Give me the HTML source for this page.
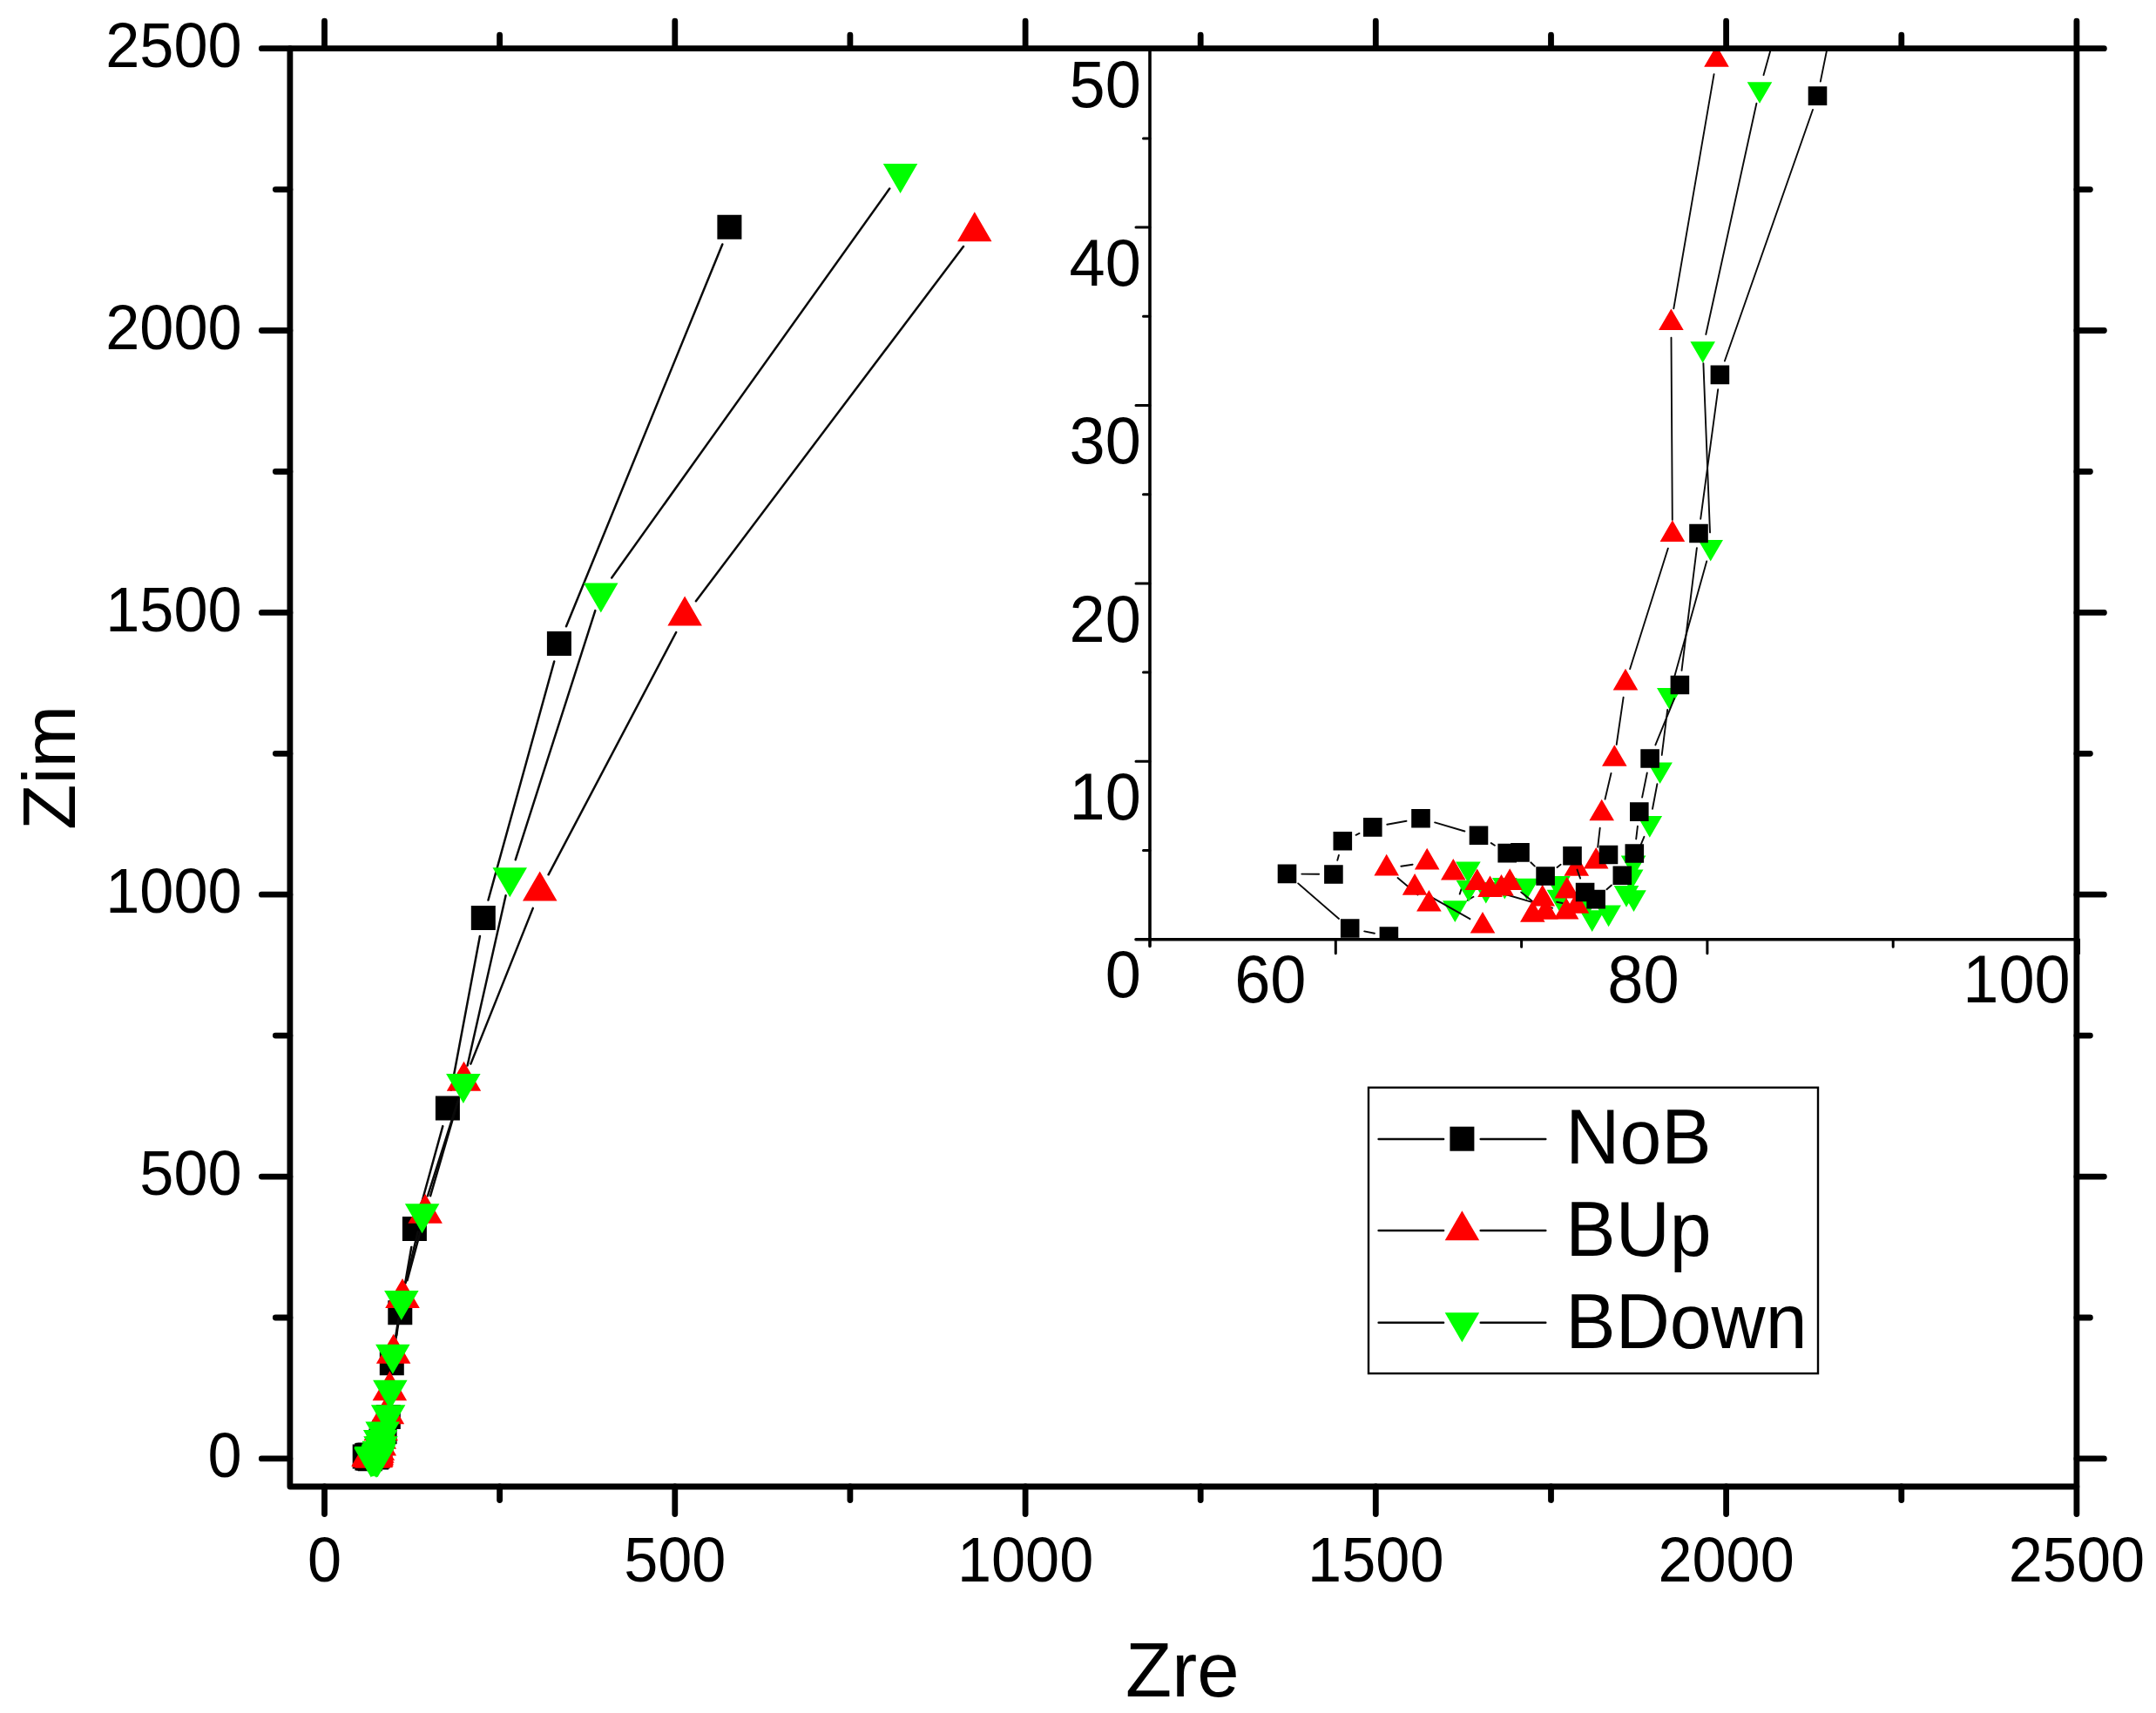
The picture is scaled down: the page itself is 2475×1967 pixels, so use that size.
<!DOCTYPE html><html><head><meta charset="utf-8"><title>Zim vs Zre</title>
<style>html,body{margin:0;padding:0;background:#fff}svg{display:block}text{font-family:"Liberation Sans",Arial,sans-serif;fill:#000}</style></head><body>
<svg width="2475" height="1967" viewBox="0 0 2475 1967">
<rect width="2475" height="1967" fill="#fff"/>
<defs><clipPath id="cm"><rect x="332.9" y="55.7" width="2051" height="1651.3"/></clipPath><clipPath id="ci"><rect x="1320" y="55.7" width="1063.9" height="1023"/></clipPath></defs>
<g clip-path="url(#cm)">
<path d="M829.3 280.5L650 719.3M636.2 759.5L560.5 1033.5M550.9 1074.9L517.8 1251.7M508.3 1293.1L481.5 1390.5M472.3 1432L462.9 1486.3M455.9 1528.3L453.2 1544.3M448.4 1586.6L447.2 1605.7" fill="none" stroke="#0a0a0a" stroke-width="2.5" stroke-linecap="round"/>
<path d="M823.4 246.8h28v28h-28zM627.9 725h28v28h-28zM540.8 1040h28v28h-28zM499.9 1258.6h28v28h-28zM461.9 1397h28v28h-28zM445.3 1493.3h28v28h-28zM435.8 1551.3h28v28h-28zM431.8 1613h28v28h-28zM427.6 1630.2h28v28h-28zM423.4 1640.4h28v28h-28zM422.5 1646.1h28v28h-28zM421.7 1651.6h28v28h-28zM420.4 1654.3h28v28h-28zM419.9 1656.3h28v28h-28zM419.7 1657.8h28v28h-28zM418.6 1657.8h28v28h-28zM419.2 1658.6h28v28h-28zM418 1659.4h28v28h-28zM417.6 1659.2h28v28h-28zM417 1657.9h28v28h-28zM415.9 1658.6h28v28h-28zM414.8 1657.7h28v28h-28zM414.2 1657.8h28v28h-28zM413 1657.1h28v28h-28zM410.5 1656.5h28v28h-28zM408.4 1656.8h28v28h-28zM407.1 1657.3h28v28h-28zM406.7 1658.5h28v28h-28zM404.7 1658.5h28v28h-28zM407.4 1660.5h28v28h-28zM409.1 1660.8h28v28h-28zM410.8 1661.3h28v28h-28z" fill="#000"/>
<path d="M1106 283L798.9 690.2M776.2 726L629.6 1004.3M611.8 1042.9L540.4 1221.6M526.5 1261.8L494.1 1373.1M482.6 1414.1L467.5 1470.1M458.6 1511.7L455.1 1533.5" fill="none" stroke="#0a0a0a" stroke-width="2.5" stroke-linecap="round"/>
<path d="M1118.8 243.3L1138.5 277.3L1099 277.3zM786.1 684.5L805.9 718.5L766.4 718.5zM619.7 1000.4L639.5 1034.4L600 1034.4zM532.5 1218.7L552.2 1252.7L512.8 1252.7zM488.1 1370.8L507.9 1404.8L468.4 1404.8zM462 1468L481.8 1502L442.2 1502zM451.7 1531.8L471.4 1565.8L431.9 1565.8zM447.4 1574.2L467.1 1608.2L427.6 1608.2zM444.5 1601.3L464.2 1635.3L424.8 1635.3zM437.3 1620.2L457 1654.2L417.5 1654.2zM435.3 1629.8L455 1663.8L415.5 1663.8zM435.4 1637.5L455.1 1671.5L415.6 1671.5zM433.3 1642.9L453.1 1676.9L413.6 1676.9zM432.8 1645.7L452.6 1679.7L413.1 1679.7zM432.3 1647.7L452 1681.7L412.5 1681.7zM432 1649.4L451.8 1683.4L412.3 1683.4zM431.2 1649.7L451 1683.7L411.5 1683.7zM430.8 1650.5L450.5 1684.5L411 1684.5zM431.2 1651L451 1685L411.5 1685zM429.7 1650.8L449.5 1684.8L410 1684.8zM429.3 1651.3L449 1685.3L409.5 1685.3zM429.9 1651.2L449.6 1685.2L410.1 1685.2zM428.3 1650.2L448.1 1684.2L408.6 1684.2zM427.9 1650.4L447.7 1684.4L408.2 1684.4zM426.9 1650.2L446.6 1684.2L407.1 1684.2zM425.9 1649.8L445.6 1683.8L406.1 1683.8zM424.7 1649.4L444.5 1683.4L405 1683.4zM423 1649.7L442.7 1683.7L403.2 1683.7zM424.8 1651L444.6 1685L405.1 1685zM424.2 1650.4L443.9 1684.4L404.4 1684.4zM427.1 1651.7L446.9 1685.7L407.4 1685.7zM427.5 1650.4L447.2 1684.4L407.7 1684.4zM430.8 1651.2L450.5 1685.2L411 1685.2z" fill="#ff0000"/>
<path d="M1021.2 216.6L702.2 663.5M683.3 701.1L591.8 987.2M580.6 1028.3L536.6 1223.6M525.5 1264.7L491 1373.2M479.7 1414.2L465.7 1472.7M457.4 1514.4L454.3 1534" fill="none" stroke="#0a0a0a" stroke-width="2.5" stroke-linecap="round"/>
<path d="M1033.6 222L1053.3 188L1013.8 188zM689.8 703.5L709.5 669.5L670 669.5zM585.3 1030.2L605 996.2L565.5 996.2zM531.9 1267.1L551.6 1233.1L512.1 1233.1zM484.6 1416.2L504.4 1382.2L464.9 1382.2zM460.8 1516.1L480.6 1482.1L441.1 1482.1zM450.9 1577.7L470.6 1543.7L431.1 1543.7zM447.9 1618.7L467.6 1584.7L428.1 1584.7zM445.6 1647.2L465.4 1613.2L425.9 1613.2zM439.1 1666.6L458.9 1632.6L419.4 1632.6zM436.7 1676.1L456.4 1642.1L416.9 1642.1zM437 1683.3L456.8 1649.3L417.3 1649.3zM435.2 1688.7L455 1654.7L415.5 1654.7zM434.8 1691.4L454.6 1657.4L415.1 1657.4zM434.4 1693.3L454.1 1659.3L414.6 1659.3zM433.7 1694.8L453.4 1660.8L413.9 1660.8zM433.6 1695.3L453.3 1661.3L413.8 1661.3zM433.7 1696L453.4 1662L413.9 1662zM433.4 1695.9L453.1 1661.9L413.6 1661.9zM432.6 1696.6L452.3 1662.6L412.8 1662.6zM431.9 1696.8L451.6 1662.8L412.1 1662.8zM431.7 1696.2L451.4 1662.2L411.9 1662.2zM430.5 1696L450.2 1662L410.7 1662zM430.4 1695.5L450.1 1661.5L410.6 1661.5zM429 1695.6L448.8 1661.6L409.3 1661.6zM428.1 1695.6L447.8 1661.6L408.3 1661.6zM427.3 1695.7L447 1661.7L407.5 1661.7zM425.9 1696.4L445.7 1662.4L406.2 1662.4zM426.5 1695L446.3 1661L406.8 1661zM426.5 1695.7L446.3 1661.7L406.8 1661.7z" fill="#00ff00"/>
</g>
<g clip-path="url(#ci)">
<path d="M2592.2 -4632.6L2334.2 -2721.8M2331 -2688.4L2253.5 -1428.1M2251.3 -1394.5L2192.6 -528.6M2187 -495.7L2024.5 86.2M2016.4 118.8L1958.3 384M1955.4 417.2L1963 611.4M1959.2 644.4L1920.8 782M1914.2 814.9L1907.7 867M1902.4 900.2L1897 928.8M1887.4 960.8L1881.5 975.1M1771.6 1015.5L1769.4 1015.7M1691.4 1029.8L1684.7 1033.8M1675.7 1026.6L1680 1013.6" fill="none" stroke="#0a0a0a" stroke-width="1.9" stroke-linecap="round"/>
<path d="M2594.5 -4632.8L2608.8 -4657.4L2580.2 -4657.4zM2332 -2688.8L2346.3 -2713.4L2317.7 -2713.4zM2252.5 -1394.9L2266.8 -1419.5L2238.2 -1419.5zM2191.5 -495.5L2205.8 -520.1L2177.2 -520.1zM2020 118.8L2034.3 94.2L2005.7 94.2zM1954.7 416.8L1969 392.2L1940.4 392.2zM1963.7 644.6L1978 620L1949.4 620zM1916.3 814.6L1930.6 790L1902 790zM1905.6 900.1L1919.9 875.5L1891.3 875.5zM1893.8 961.7L1908.1 937.1L1879.5 937.1zM1875.1 1007L1889.4 982.4L1860.8 982.4zM1872.2 1023.2L1886.5 998.6L1857.9 998.6zM1875.5 1046.9L1889.8 1022.3L1861.2 1022.3zM1867 1041.7L1881.3 1017.1L1852.7 1017.1zM1846.6 1064.2L1860.9 1039.6L1832.3 1039.6zM1827.7 1069.9L1842 1045.3L1813.4 1045.3zM1822 1052.4L1836.3 1027.8L1807.7 1027.8zM1790 1046.4L1804.3 1021.8L1775.7 1021.8zM1788.4 1030.7L1802.7 1006.1L1774.1 1006.1zM1752.6 1033.3L1766.9 1008.7L1738.3 1008.7zM1727.3 1032.6L1741.6 1008L1713 1008zM1705.8 1037.5L1720.1 1012.9L1691.5 1012.9zM1670.3 1058.9L1684.6 1034.3L1656 1034.3zM1685.4 1014.1L1699.7 989.5L1671.1 989.5zM1686 1035.6L1700.3 1011L1671.7 1011z" fill="#00ff00"/>
<path d="M2624 -4717.8L2355.5 -2737.6M2351.8 -2704.2L2240.6 -1399.6M2237.7 -1366.2L2163.8 -544.4M2157.2 -511.7L1975.6 52.5M1967.6 85.1L1921.3 354.3M1918.5 387.7L1919.8 596.9M1914.8 629.7L1871.1 768.2M1863.6 800.8L1855.7 855M1849.5 888L1842.5 917.7M1836.7 950.8L1834.2 972.7M1793.6 1037L1787.1 1035.7M1761.4 1036.8L1746.2 1024.4M1621.6 992.7L1608.3 994.7M1604.5 1008L1627.6 1027.5M1638.7 1027.7L1687.4 1055.2" fill="none" stroke="#0a0a0a" stroke-width="1.9" stroke-linecap="round"/>
<path d="M1726.6 1026.5L1782 1042.7" fill="none" stroke="#0a0a0a" stroke-width="1.9" stroke-linecap="round"/>
<path d="M2626.3 -4750.8L2640.6 -4726.2L2612 -4726.2zM2353.2 -2737.4L2367.5 -2712.8L2338.9 -2712.8zM2239.2 -1399.3L2253.5 -1374.7L2224.9 -1374.7zM2162.3 -544L2176.6 -519.4L2148 -519.4zM1970.5 52.1L1984.8 76.7L1956.2 76.7zM1918.4 354.5L1932.7 379.1L1904.1 379.1zM1919.9 597.3L1934.2 621.9L1905.6 621.9zM1866 767.8L1880.3 792.4L1851.7 792.4zM1853.3 855.2L1867.6 879.8L1839 879.8zM1838.7 917.7L1853 942.3L1824.4 942.3zM1832.2 973L1846.5 997.6L1817.9 997.6zM1809.8 981.2L1824.1 1005.8L1795.5 1005.8zM1798.8 1006.8L1813.1 1031.4L1784.5 1031.4zM1810 1024.1L1824.3 1048.7L1795.7 1048.7zM1770.7 1015.8L1785 1040.4L1756.4 1040.4zM1759.3 1034.1L1773.6 1058.7L1745 1058.7zM1774.4 1031.1L1788.7 1055.7L1760.1 1055.7zM1733.2 997.3L1747.5 1021.9L1718.9 1021.9zM1723.5 1004L1737.8 1028.6L1709.2 1028.6zM1695.7 997.4L1710 1022L1681.4 1022zM1668.3 985.9L1682.6 1010.5L1654 1010.5zM1638.2 973.8L1652.5 998.4L1623.9 998.4zM1591.7 980.8L1606 1005.4L1577.4 1005.4zM1640.4 1021.9L1654.7 1046.5L1626.1 1046.5zM1624.1 1003.1L1638.4 1027.7L1609.8 1027.7zM1702 1047L1716.3 1071.6L1687.7 1071.6zM1710.5 1005.4L1724.8 1030L1696.2 1030zM1798.1 1031L1812.4 1055.6L1783.8 1055.6z" fill="#ff0000"/>
<path d="M2552.4 -4193.9L2305.1 -2396.8M2301.9 -2363.4L2197.7 -449.7M2193.4 -416.5L2089.8 93.6M2081 126L1979.9 414.5M1972.2 447.1L1952.2 595.8M1947.9 629.2L1930.5 769.8M1922.1 802.1L1900.4 855.4M1890.8 887.5L1885.1 915.6M1879.9 948.8L1878.2 963.3M1849.9 1016.5L1844.5 1021.3M1814.1 1008.6L1810.5 998.6M1791.6 992.8L1787.5 995.9M1761.8 994.6L1757.3 990.3M1715.9 970.7L1711.8 968.1M1681.4 954.5L1647.1 944.4M1614.5 942.8L1592.3 946.8M1560.5 956.9L1556.6 958.8M1536.9 982L1535.3 987.8M1514.1 1003.8L1494.3 1003.6M1490.2 1014.4L1537 1055M1566.2 1069.4L1577.9 1071.7M1610.2 1080.9L1624.2 1086.2" fill="none" stroke="#0a0a0a" stroke-width="1.9" stroke-linecap="round"/>
<path d="M2543.9 -4221.4h21.6v21.6h-21.6zM2292 -2390.9h21.6v21.6h-21.6zM2186 -443.8h21.6v21.6h-21.6zM2075.7 99.3h21.6v21.6h-21.6zM1963.6 419.6h21.6v21.6h-21.6zM1939.2 601.7h21.6v21.6h-21.6zM1917.6 775.7h21.6v21.6h-21.6zM1883.3 860.2h21.6v21.6h-21.6zM1871 921.3h21.6v21.6h-21.6zM1865.5 969.2h21.6v21.6h-21.6zM1835.7 970.7h21.6v21.6h-21.6zM1851.5 994.4h21.6v21.6h-21.6zM1821.3 1021.8h21.6v21.6h-21.6zM1808.8 1013.7h21.6v21.6h-21.6zM1794.2 971.9h21.6v21.6h-21.6zM1763.3 995.2h21.6v21.6h-21.6zM1734.2 968.1h21.6v21.6h-21.6zM1719.4 968.8h21.6v21.6h-21.6zM1686.7 948.4h21.6v21.6h-21.6zM1620.2 928.9h21.6v21.6h-21.6zM1565 939.1h21.6v21.6h-21.6zM1530.5 955h21.6v21.6h-21.6zM1520.1 993.2h21.6v21.6h-21.6zM1466.7 992.6h21.6v21.6h-21.6zM1538.9 1055.2h21.6v21.6h-21.6zM1583.6 1064.3h21.6v21.6h-21.6zM1629.2 1081.2h21.6v21.6h-21.6z" fill="#000"/>
</g>
<path d="M1320 55.7V1086.5 M1304 1078.7H2383.9" stroke="#000" stroke-width="3.6" fill="none" stroke-linecap="round"/>
<path d="M1320 874.3H1304M1320 669.9H1304M1320 465.5H1304M1320 261.1H1304M1320 976.5H1312.5M1320 772.1H1312.5M1320 567.7H1312.5M1320 363.3H1312.5M1320 158.9H1312.5M1533.3 1078.7V1094.7M1959.9 1078.7V1094.7M2386.5 1078.7V1094.7M1746.6 1078.7V1087.2M2173.2 1078.7V1087.2" stroke="#000" stroke-width="3.0" fill="none" stroke-linecap="round"/>
<text transform="translate(1309.8 1145.3) scale(1 1.035)" font-size="74" text-anchor="end">0</text>
<text transform="translate(1309.8 940.9) scale(1 1.035)" font-size="74" text-anchor="end">10</text>
<text transform="translate(1309.8 736.5) scale(1 1.035)" font-size="74" text-anchor="end">20</text>
<text transform="translate(1309.8 532.1) scale(1 1.035)" font-size="74" text-anchor="end">30</text>
<text transform="translate(1309.8 327.7) scale(1 1.035)" font-size="74" text-anchor="end">40</text>
<text transform="translate(1309.8 123.3) scale(1 1.035)" font-size="74" text-anchor="end">50</text>
<text transform="translate(1458.3 1151) scale(1 1.04)" font-size="74" text-anchor="middle">60</text>
<text transform="translate(1886.4 1151) scale(1 1.04)" font-size="74" text-anchor="middle">80</text>
<text transform="translate(2315 1151) scale(1 1.04)" font-size="74" text-anchor="middle">100</text>
<rect x="332.9" y="55.7" width="2051" height="1651.3" stroke="#000" stroke-width="6.8" fill="none" stroke-linejoin="round"/>
<path d="M372.5 55.7V24.2M372.5 1707V1738.5M332.9 1674.9H300.3M2383.9 1674.9H2415.4M573.6 55.7V40.2M573.6 1707V1722.5M332.9 1513H316.3M2383.9 1513H2399.4M774.8 55.7V24.2M774.8 1707V1738.5M332.9 1351.1H300.3M2383.9 1351.1H2415.4M975.9 55.7V40.2M975.9 1707V1722.5M332.9 1189.1H316.3M2383.9 1189.1H2399.4M1177.1 55.7V24.2M1177.1 1707V1738.5M332.9 1027.2H300.3M2383.9 1027.2H2415.4M1378.2 55.7V40.2M1378.2 1707V1722.5M332.9 865.3H316.3M2383.9 865.3H2399.4M1579.3 55.7V24.2M1579.3 1707V1738.5M332.9 703.4H300.3M2383.9 703.4H2415.4M1780.5 55.7V40.2M1780.5 1707V1722.5M332.9 541.5H316.3M2383.9 541.5H2399.4M1981.6 55.7V24.2M1981.6 1707V1738.5M332.9 379.5H300.3M2383.9 379.5H2415.4M2182.8 55.7V40.2M2182.8 1707V1722.5M332.9 217.6H316.3M2383.9 217.6H2399.4M2383.9 55.7V24.2M2383.9 1707V1738.5M332.9 55.7H300.3M2383.9 55.7H2415.4" stroke="#000" stroke-width="6.8" fill="none" stroke-linecap="round"/>
<text transform="translate(372.5 1815.8) scale(1 1.035)" font-size="70.3" text-anchor="middle">0</text>
<text transform="translate(277.6 1696) scale(1 1.035)" font-size="70.3" text-anchor="end">0</text>
<text transform="translate(774.8 1815.8) scale(1 1.035)" font-size="70.3" text-anchor="middle">500</text>
<text transform="translate(277.6 1372.2) scale(1 1.035)" font-size="70.3" text-anchor="end">500</text>
<text transform="translate(1177.1 1815.8) scale(1 1.035)" font-size="70.3" text-anchor="middle">1000</text>
<text transform="translate(277.6 1048.3) scale(1 1.035)" font-size="70.3" text-anchor="end">1000</text>
<text transform="translate(1579.3 1815.8) scale(1 1.035)" font-size="70.3" text-anchor="middle">1500</text>
<text transform="translate(277.6 724.5) scale(1 1.035)" font-size="70.3" text-anchor="end">1500</text>
<text transform="translate(1981.6 1815.8) scale(1 1.035)" font-size="70.3" text-anchor="middle">2000</text>
<text transform="translate(277.6 400.6) scale(1 1.035)" font-size="70.3" text-anchor="end">2000</text>
<text transform="translate(2383.9 1815.8) scale(1 1.035)" font-size="70.3" text-anchor="middle">2500</text>
<text transform="translate(277.6 76.8) scale(1 1.035)" font-size="70.3" text-anchor="end">2500</text>
<text transform="translate(1357.3 1948.2) scale(1 1.025)" font-size="87" text-anchor="middle">Zre</text>
<text transform="translate(86.4 881.4) rotate(-90) scale(1 1.0)" font-size="86" text-anchor="middle">Zim</text>
<rect x="1571" y="1248.8" width="516" height="328.3" fill="#fff" stroke="#000" stroke-width="2.4"/>
<path d="M1582.6 1307.9H1657.1 M1699.7 1307.9H1774.3" stroke="#0a0a0a" stroke-width="2.5" fill="none" stroke-linecap="round"/>
<path d="M1664.4 1293.7h28v28h-28z" fill="#000"/>
<text transform="translate(1797.3 1336.3) scale(1 1.03)" font-size="86" text-anchor="start">NoB</text>
<path d="M1582.6 1413.1H1657.1 M1699.7 1413.1H1774.3" stroke="#0a0a0a" stroke-width="2.5" fill="none" stroke-linecap="round"/>
<path d="M1678.4 1390.2L1698.2 1424.2L1658.7 1424.2z" fill="#ff0000"/>
<text transform="translate(1797.3 1441.8) scale(1 1.03)" font-size="86" text-anchor="start">BUp</text>
<path d="M1582.6 1518.8H1657.1 M1699.7 1518.8H1774.3" stroke="#0a0a0a" stroke-width="2.5" fill="none" stroke-linecap="round"/>
<path d="M1678.4 1541.3L1698.2 1507.3L1658.7 1507.3z" fill="#00ff00"/>
<text transform="translate(1797.3 1547.6) scale(1 1.03)" font-size="86" text-anchor="start">BDown</text>
</svg></body></html>
